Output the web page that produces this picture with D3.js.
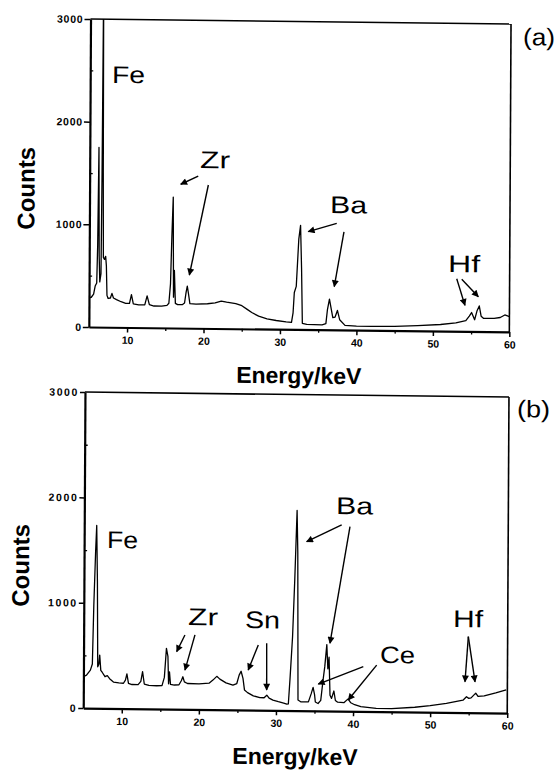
<!DOCTYPE html>
<html><head><meta charset="utf-8">
<script src="https://cdn.jsdelivr.net/npm/d3@7"></script>
<style>
body{margin:0;background:#fff}
svg{display:block;background:#fff}
</style>
</head><body>
<svg id="chart" width="557" height="772"></svg>
<script>
// ---------- DATA ----------
const energyA = [5.0,5.3,5.6,5.8,6.0,6.1,6.2,6.3,6.4,6.55,6.62,6.7,6.78,6.85,7.0,7.15,7.25,7.35,7.5,7.8,8.0,8.2,8.6,9.2,9.8,10.3,10.55,10.8,11.5,12.3,12.6,12.9,13.5,14.5,15.2,15.45,15.65,15.8,15.95,16.05,16.15,16.3,16.6,17.2,17.5,17.7,17.85,18.0,18.2,19.0,20.5,21.5,22.3,23.0,24.2,25.0,25.7,26.3,27.2,28.3,29.5,30.8,31.5,31.7,31.85,32.1,32.4,32.62,32.78,32.92,33.5,35.5,36.0,36.2,36.45,36.7,36.9,37.2,37.5,37.8,38.5,40,42,45,48,51,53,54.3,54.75,55.05,55.45,55.75,56.05,56.3,56.6,58.0,58.8,59.4,60];
const countsA = [285,290,320,400,430,800,1750,700,440,520,1500,3400,1500,680,660,690,600,310,280,285,330,285,270,250,235,235,320,230,222,222,310,225,212,212,220,240,430,900,1275,300,560,240,228,228,245,350,410,340,240,235,240,250,268,258,245,225,190,160,125,100,85,72,68,160,360,420,880,1015,600,60,50,48,60,200,300,200,120,125,190,100,45,40,38,42,52,65,82,105,150,185,115,200,250,150,130,130,140,165,150];

const energyB = [5.0,5.4,5.9,6.15,6.3,6.5,6.62,6.75,6.85,7.0,7.1,7.25,7.45,7.8,8.1,8.4,8.9,9.6,10.2,10.45,10.64,10.85,11.3,12.1,12.45,12.67,12.9,13.5,14.5,15.2,15.5,15.75,15.95,16.05,16.16,16.3,16.8,17.4,17.7,17.9,18.1,18.5,20.0,21.3,21.8,22.3,22.7,23.5,24.4,24.9,25.2,25.45,25.7,25.9,26.3,27.05,27.9,28.45,28.8,29.1,29.6,30.3,31.0,31.4,31.6,31.8,32.1,32.35,32.6,32.72,32.85,33.2,34.2,34.55,34.8,35.0,35.1,35.45,35.8,36.1,36.3,36.55,36.7,36.85,37.0,37.2,37.5,37.7,38.0,38.8,39.35,39.7,40.2,41,43,45,48,50,52.1,54.25,54.7,55.0,55.3,55.9,56.2,57,58.5,59.85];
const countsB = [297,313,361,420,980,1500,1735,1200,393,420,505,360,340,300,310,282,250,243,240,270,330,240,229,229,260,353,235,222,220,222,300,576,500,240,354,235,229,232,270,308,260,245,243,250,280,316,290,255,235,250,330,367,300,190,165,135,118,118,143,115,97,82,70,60,62,300,700,1250,1900,1500,100,84,84,160,222,150,84,70,100,300,420,630,400,510,150,120,190,100,84,80,117,80,62,45,30,30,45,62,85,117,150,135,140,186,155,160,190,221];

const xTickValues = [10,20,30,40,50,60];
const xMinorValues = [15,25,35,45,55];
const yTickValues = [0,1000,2000,3000];
const yMinorValues = [500,1500,2500];

// annotations: text + anchor in data units
const notesA = [
  {t:"Fe", e:7.85,  c:2380, w:33},
  {t:"Zr", e:19.43, c:1561, w:30},
  {t:"Ba", e:36.46, c:1139, w:37},
  {t:"Hf", e:51.95, c:577,  w:32},
  {t:"(a)", e:61.59, c:2796, w:32}
];
const arrowsA = [
  [19.2,1483,16.92,1401],[20.53,1397,18.11,518],
  [37.35,1038,33.63,954],[38.3,957,37.07,421],
  [53.08,512,54.18,254],[53.74,507,55.92,340]
];
const notesB = [
  {t:"Fe", e:7.97,  c:1522, w:31},
  {t:"Zr", e:18.53, c:800,  w:30},
  {t:"Sn", e:25.92, c:778,  w:35},
  {t:"Ba", e:37.65, c:1870, w:37},
  {t:"Ce", e:43.46, c:460,  w:35},
  {t:"Hf", e:52.9,  c:811,  w:30},
  {t:"(b)", e:61.07, c:2811, w:33}
];
const arrowsB = [
  [18.14,705,17.08,546],[19.44,707,18.17,372],
  [27.66,618,26.37,380],[28.75,635,28.78,192],
  [38.39,1767,33.86,1604],[39.47,1752,36.96,643],
  [41.3,424,35.47,254],[43.03,441,39.37,106],
  [54.9,721,54.5,292],[54.9,721,55.8,293]
];

// ---------- DRAW ----------
const svg = d3.select("#chart");
const font = "'Liberation Sans', Arial, Helvetica, sans-serif";

const defs = svg.append("defs");
defs.append("marker").attr("id","ah").attr("viewBox","0 0 10 10")
  .attr("refX",9).attr("refY",5).attr("markerWidth",8).attr("markerHeight",7)
  .attr("markerUnits","userSpaceOnUse").attr("orient","auto")
  .append("path").attr("d","M0,0 L10,5 L0,10 Z").attr("fill","#000");

// slight scan skew of the original figure
const root = svg.append("g").attr("transform","matrix(1,0.0118,-0.0055,1,2.145,-3.54)");

const panels = [
  {E:energyA, C:countsA, notes:notesA, arrows:arrowsA, xr:[88.5,509], yr:[329.5,21.5], id:"a", tickLen:6, tickLS:0.8},
  {E:energyB, C:countsB, notes:notesB, arrows:arrowsB, xr:[85,509], yr:[710.6,394.6], id:"b", tickLen:5, tickLS:1.6}
];

panels.forEach(p => {
  const x = d3.scaleLinear().domain([5,60]).range(p.xr);
  const y = d3.scaleLinear().domain([0,3000]).range(p.yr);
  const g = root.append("g");

  defs.append("clipPath").attr("id","clip"+p.id).append("rect")
    .attr("x",p.xr[0]).attr("y",p.yr[1]).attr("width",p.xr[1]-p.xr[0]).attr("height",p.yr[0]-p.yr[1]);

  // frame top & right
  g.append("line").attr("x1",p.xr[0]).attr("x2",p.xr[1]).attr("y1",p.yr[1]).attr("y2",p.yr[1])
    .attr("stroke","#000").attr("stroke-width",1.6);
  g.append("line").attr("x1",p.xr[1]).attr("x2",p.xr[1]).attr("y1",p.yr[1]).attr("y2",p.yr[0])
    .attr("stroke","#000").attr("stroke-width",1.6);

  // spectrum
  const pts = p.E.map((e,i)=>[e,p.C[i]]);
  g.append("path").datum(pts)
    .attr("clip-path","url(#clip"+p.id+")")
    .attr("d", d3.line().x(d=>x(d[0])).y(d=>y(d[1])))
    .attr("fill","none").attr("stroke","#000").attr("stroke-width",1.3).attr("stroke-linejoin","round");

  // axes
  const ax = g.append("g").attr("transform",`translate(0,${p.yr[0]})`)
    .call(d3.axisBottom(x).tickValues(xTickValues).tickSize(5).tickSizeOuter(0).tickPadding(4).tickFormat(d3.format("d")));
  const axm = g.append("g").attr("transform",`translate(0,${p.yr[0]})`)
    .call(d3.axisBottom(x).tickValues(xMinorValues).tickSize(3).tickFormat(""));
  axm.select(".domain").remove();
  const ay = g.append("g").attr("transform",`translate(${p.xr[0]},0)`)
    .call(d3.axisLeft(y).tickValues(yTickValues).tickSize(p.tickLen).tickSizeOuter(0).tickPadding(1).tickFormat(d3.format("d")));
  const aym = g.append("g").attr("transform",`translate(${p.xr[0]},0)`)
    .call(d3.axisLeft(y).tickValues(yMinorValues).tickSize(-3).tickFormat(""));
  aym.select(".domain").remove();
  [ax,ay].forEach(a=>{
    a.select(".domain").attr("stroke-width",2.2).attr("stroke","#000");
    a.selectAll(".tick line").attr("stroke-width",1.5);
    a.selectAll("text").attr("font-family",font).attr("font-weight","bold")
      .attr("font-size","10.5px").attr("fill","#000");
  });
  ay.selectAll(".tick text").attr("letter-spacing",p.tickLS+"px");
  [axm,aym].forEach(a=>a.selectAll(".tick line").attr("stroke-width",1.3));

  // axis titles
  g.append("text").attr("transform",`translate(${p.xr[0]-55},${(p.yr[0]+p.yr[1])/2+16}) rotate(-90)`)
    .attr("text-anchor","middle").attr("font-family",font).attr("font-weight","bold")
    .attr("font-size","24px").text("Counts");
  g.append("text").attr("x",(p.xr[0]+p.xr[1])/2).attr("y",p.yr[0]+54)
    .attr("text-anchor","middle").attr("font-family",font).attr("font-weight","bold")
    .attr("font-size","23px").text("Energy/keV");

  // annotations
  p.notes.forEach(n=>{
    g.append("text").attr("x",x(n.e)).attr("y",y(n.c))
      .attr("font-family",font).attr("font-size","24px")
      .attr("textLength",n.w).attr("lengthAdjust","spacingAndGlyphs").text(n.t);
  });
  p.arrows.forEach(a=>{
    g.append("line").attr("x1",x(a[0])).attr("y1",y(a[1])).attr("x2",x(a[2])).attr("y2",y(a[3]))
      .attr("stroke","#000").attr("stroke-width",1.4).attr("marker-end","url(#ah)");
  });
});
</script>
</body></html>
